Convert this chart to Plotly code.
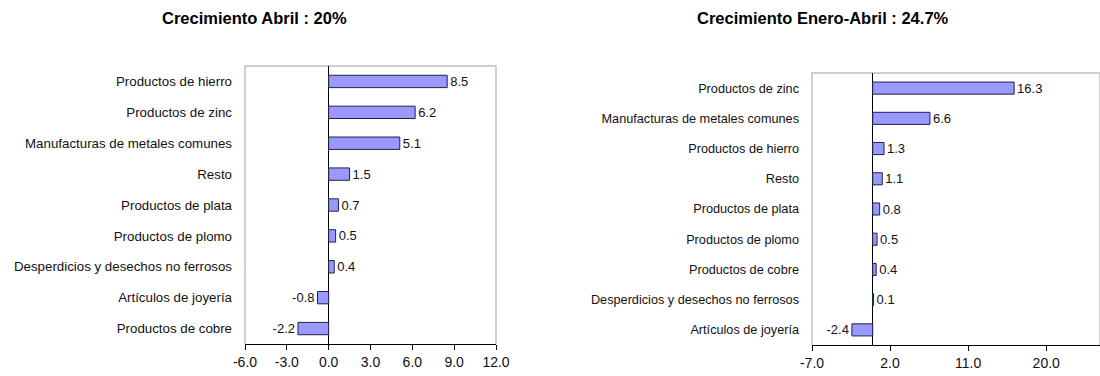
import plotly.graph_objects as go

W, H = 1100, 376

# Crecimiento Abril
abril_cats = ["Productos de hierro", "Productos de zinc", "Manufacturas de metales comunes",
              "Resto", "Productos de plata", "Productos de plomo",
              "Desperdicios y desechos no ferrosos", "Artículos de joyería", "Productos de cobre"]
abril_vals = [8.5, 6.2, 5.1, 1.5, 0.7, 0.5, 0.4, -0.8, -2.2]
abril_ticks = [-6, -3, 0, 3, 6, 9, 12]

# Crecimiento Enero-Abril
ene_abr_cats = ["Productos de zinc", "Manufacturas de metales comunes", "Productos de hierro",
                "Resto", "Productos de plata", "Productos de plomo", "Productos de cobre",
                "Desperdicios y desechos no ferrosos", "Artículos de joyería"]
ene_abr_vals = [16.3, 6.6, 1.3, 1.1, 0.8, 0.5, 0.4, 0.1, -2.4]
ene_abr_ticks = [-7, 2, 11, 20, 29]

titles = ["Crecimiento Abril : 20%", "Crecimiento Enero-Abril : 24.7%"]

FONT = "Liberation Sans, Arial, sans-serif"
BAR = "#9999ff"
FRAME = "#c0c0c0"


def px_x(p):
    return p / W


def px_y(p):
    return 1 - p / H


def fmt(v):
    return "%.1f" % v


fig = go.Figure()

for i, (cats, vals) in enumerate([(abril_cats, abril_vals), (ene_abr_cats, ene_abr_vals)]):
    xa = "x" if i == 0 else "x2"
    ya = "y" if i == 0 else "y2"
    fig.add_trace(go.Bar(
        x=vals, y=cats, orientation="h", xaxis=xa, yaxis=ya,
        marker=dict(color=BAR, line=dict(color="#222244", width=1)),
        text=[fmt(v) for v in vals], texttemplate="%{text}", textposition="outside",
        constraintext="none",
        textfont=dict(family=FONT, size=13, color="#111"),
        cliponaxis=False, showlegend=False, hoverinfo="x+y",
    ))

axis_common = dict(
    showgrid=False, zeroline=True, zerolinecolor="#000", zerolinewidth=1,
    showline=True, linecolor="#000", linewidth=1, automargin=False,
    ticks="outside", ticklen=5, tickcolor="#000", tickmode="array",
    tickfont=dict(family=FONT, size=14, color="#111"), fixedrange=True,
)
yaxis_common = dict(
    type="category", autorange="reversed", showgrid=False, showline=False,
    ticks="", ticklabelstandoff=12, fixedrange=True, automargin=False,
    tickfont=dict(family=FONT, size=13.3, color="#111"),
)

fig.update_layout(
    width=W, height=H,
    margin=dict(l=0, r=0, t=0, b=0),
    paper_bgcolor="white", plot_bgcolor="white",
    bargap=0.6,
    font=dict(family=FONT, color="#111"),
    xaxis=dict(axis_common, domain=[px_x(245), px_x(496)], range=[-6, 12],
               tickvals=abril_ticks, ticktext=[fmt(t) for t in abril_ticks], anchor="y"),
    yaxis=dict(yaxis_common, domain=[px_y(344), px_y(66)], anchor="x"),
    xaxis2=dict(axis_common, domain=[px_x(812), 1.0], range=[-7, 26.2],
                tickvals=ene_abr_ticks, ticktext=[fmt(t) for t in ene_abr_ticks], anchor="y2"),
    yaxis2=dict(yaxis_common, domain=[px_y(345), px_y(73)], anchor="x2",
                tickfont=dict(family=FONT, size=12.7, color="#111")),
)

# grey plot frame (top, left, right)
for xr, yr in [("x domain", "y domain"), ("x2 domain", "y2 domain")]:
    fig.add_shape(type="path", xref=xr, yref=yr,
                  path="M 0 0 L 0 1 L 1 1 L 1 0",
                  line=dict(color=FRAME, width=1.5), layer="below")

# titles
for xc, text in zip([254, 823], titles):
    fig.add_annotation(x=px_x(xc), y=px_y(18), xref="paper", yref="paper",
                       text="<b>%s</b>" % text, showarrow=False,
                       font=dict(family=FONT, size=16.5, color="#000"),
                       xanchor="center", yanchor="middle")

fig.write_html("out.html", config={"displayModeBar": False},
               post_script="document.body.style.margin='0';")
